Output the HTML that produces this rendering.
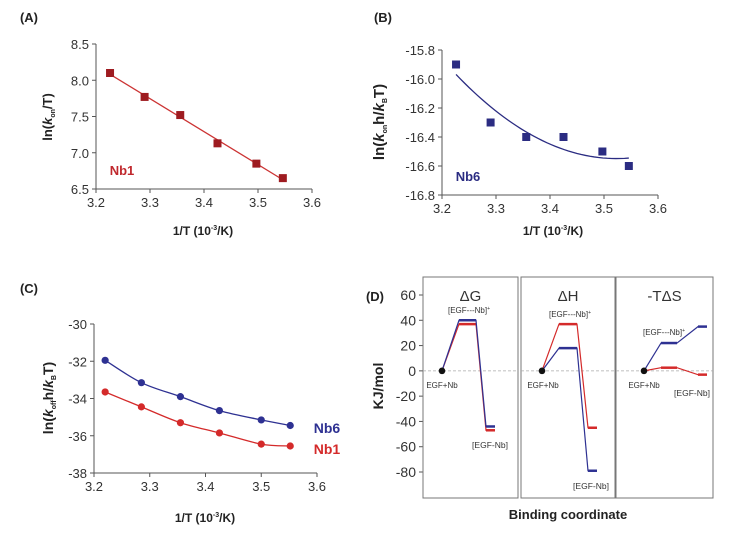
<!DOCTYPE html>
<html><head><meta charset="utf-8"><style>
html,body{margin:0;padding:0;background:#fff}
svg{display:block;font-family:"Liberation Sans",sans-serif}
.t{fill:#333}
.b{font-weight:bold;fill:#222}
</style></head><body>
<svg id="s" width="730" height="533" viewBox="0 0 730 533"></svg>
<script>
// Panel A data
const aX=[3.226,3.29,3.356,3.425,3.497,3.546];
const aY=[8.10,7.77,7.52,7.13,6.85,6.65];
// Panel B data
const bX=[3.226,3.29,3.356,3.425,3.497,3.546];
const bY=[-15.9,-16.3,-16.4,-16.4,-16.5,-16.6];
// Panel C data
const cX=[3.22,3.285,3.355,3.425,3.5,3.552];
const cNb6=[-31.95,-33.15,-33.9,-34.65,-35.15,-35.45];
const cNb1=[-33.65,-34.45,-35.3,-35.85,-36.45,-36.55];
const xTicks=[3.2,3.3,3.4,3.5,3.6];
const aTicks=[6.5,7.0,7.5,8.0,8.5];
const bTicks=[-16.8,-16.6,-16.4,-16.2,-16.0,-15.8];
const cTicks=[-38,-36,-34,-32,-30];
// Panel D data
const dTicks=[-80,-60,-40,-20,0,20,40,60];
const dPanels=["ΔG","ΔH","-TΔS"];
const dBlue=[[0,40,-44],[0,18,-79],[0,22,35]];
const dRed=[[0,37,-47],[0,37,-45],[0,2.5,-3]];

const S=document.getElementById('s');
const NS='http://www.w3.org/2000/svg';
function mk(t,a,p){const e=document.createElementNS(NS,t);for(const k in a)e.setAttribute(k,a[k]);(p||S).appendChild(e);return e;}
function tx(x,y,s,cls,anchor,extra){extra=Object.assign({},extra||{});
  const fs=extra['font-size']||'13';delete extra['font-size'];
  const fill=extra.fill;delete extra.fill;
  const e=mk('text',Object.assign({x:x,y:y,class:cls||'t','text-anchor':anchor||'middle',style:'font-size:'+fs+'px;'+(fill?'fill:'+fill:'')},extra));e.innerHTML=s;return e;}
function lin(d0,d1,r0,r1){return v=>r0+(v-d0)/(d1-d0)*(r1-r0);}

function axes(name,X,Y,x0,x1,y0,y1,yt,fmt){
  const g=mk('g',{});
  
  
  mk('line',{x1:x0,y1:y0,x2:x0,y2:y1,stroke:'#555','stroke-width':1},g);
  mk('line',{x1:x0,y1:y0,x2:x1,y2:y0,stroke:'#555','stroke-width':1},g);
  xTicks.forEach(v=>{const x=X(v);mk('line',{x1:x,y1:y0,x2:x,y2:y0+4,stroke:'#555'},g);
    const t=tx(x,y0+18,v.toFixed(1));});
  yt.forEach(v=>{const y=Y(v);mk('line',{x1:x0-4,y1:y,x2:x0,y2:y,stroke:'#555'},g);
    const t=tx(x0-7,y+5,fmt(v),'t','end');});
}
function smooth(pts){let d='M'+pts[0][0]+','+pts[0][1];
  for(let i=0;i<pts.length-1;i++){const p0=pts[Math.max(0,i-1)],p1=pts[i],p2=pts[i+1],p3=pts[Math.min(pts.length-1,i+2)];
    d+=' C'+(p1[0]+(p2[0]-p0[0])/6)+','+(p1[1]+(p2[1]-p0[1])/6)+' '+(p2[0]-(p3[0]-p1[0])/6)+','+(p2[1]-(p3[1]-p1[1])/6)+' '+p2[0]+','+p2[1];}
  return d;}
function fit(xs,ys,deg){const n=deg+1,A=[],B=[];for(let i=0;i<n;i++){A.push(new Array(n).fill(0));B.push(0);}
  const m=xs.reduce((a,b)=>a+b)/xs.length;
  xs.forEach((x0,k)=>{const x=x0-m;for(let i=0;i<n;i++){B[i]+=ys[k]*Math.pow(x,i);for(let j=0;j<n;j++)A[i][j]+=Math.pow(x,i+j);}});
  for(let i=0;i<n;i++){for(let k=i+1;k<n;k++){const f=A[k][i]/A[i][i];for(let j=i;j<n;j++)A[k][j]-=f*A[i][j];B[k]-=f*B[i];}}
  const c=new Array(n).fill(0);for(let i=n-1;i>=0;i--){let s=B[i];for(let j=i+1;j<n;j++)s-=A[i][j]*c[j];c[i]=s/A[i][i];}
  return x=>c.reduce((s,ci,i)=>s+ci*Math.pow(x-m,i),0);}

// ---- Panel A
{const X=lin(3.2,3.6,96,312),Y=lin(6.5,8.5,189,44);
 tx(29,22,'(A)','t b');
 axes('panel-a',X,Y,96,312,189,44,aTicks,v=>v.toFixed(1));
 const f=fit(aX,aY,1);
 const l=mk('line',{x1:X(aX[0]),y1:Y(f(aX[0])),x2:X(aX[5]),y2:Y(f(aX[5])),stroke:'#cc3333','stroke-width':1.3});
 
 aX.forEach((x,i)=>{const r=mk('rect',{x:X(x)-4,y:Y(aY[i])-4,width:8,height:8,fill:'#9e1b20'});
  });
 tx(122,175,'Nb1','t b',null,{fill:'#c0282d'});
 tx(203,235,'1/T (10<tspan font-size="7" dy="-5">-3</tspan><tspan dy="5">/K)</tspan>','t b',null,{'font-size':'12'});
 tx(0,0,'ln(<tspan font-style="italic">k</tspan><tspan font-size="7" dy="3">on</tspan><tspan dy="-3">/T)</tspan>','t b',null,{transform:'translate(52,117) rotate(-90)','font-size':'13'});
}
// ---- Panel B
{const X=lin(3.2,3.6,442,658),Y=lin(-16.8,-15.8,195,50);
 tx(383,22,'(B)','t b');
 axes('panel-b',X,Y,442,658,195,50,bTicks,v=>v.toFixed(1));
 const f=fit(bX,bY,2);const pts=[];for(let i=0;i<=40;i++){const x=3.226+i*(3.546-3.226)/40;pts.push([X(x),Y(f(x))]);}
 const p=mk('path',{d:'M'+pts.map(q=>q.join(',')).join(' L'),fill:'none',stroke:'#2b2c82','stroke-width':1.3});
 
 bX.forEach((x,i)=>{const r=mk('rect',{x:X(x)-4,y:Y(bY[i])-4,width:8,height:8,fill:'#2b2c82'});
  });
 tx(468,181,'Nb6','t b',null,{fill:'#2b2c82'});
 tx(553,235,'1/T (10<tspan font-size="7" dy="-5">-3</tspan><tspan dy="5">/K)</tspan>','t b',null,{'font-size':'12'});
 tx(0,0,'ln(<tspan font-style="italic">k</tspan><tspan font-size="7" dy="3">on</tspan><tspan dy="-3">h/</tspan><tspan font-style="italic">k</tspan><tspan font-size="7" dy="3">B</tspan><tspan dy="-3">T)</tspan>','t b',null,{transform:'translate(384,122) rotate(-90)','font-size':'15'});
}
// ---- Panel C
{const X=lin(3.2,3.6,94,317),Y=lin(-38,-30,473,324);
 tx(29,293,'(C)','t b');
 axes('panel-c',X,Y,94,317,473,324,cTicks,v=>String(v));
 [[cNb6,'#2e3192','nb6'],[cNb1,'#d42a2a','nb1']].forEach(([ys,c,n])=>{
  const pts=cX.map((x,i)=>[X(x),Y(ys[i])]);
  const p=mk('path',{d:smooth(pts),fill:'none',stroke:c,'stroke-width':1.3});
  
  pts.forEach(q=>{const e=mk('circle',{cx:q[0],cy:q[1],r:3.6,fill:c});
   });
 });
 tx(327,433,'Nb6','t b','middle',{fill:'#2e3192','font-size':'14'});
 tx(327,454,'Nb1','t b','middle',{fill:'#d42a2a','font-size':'14'});
 tx(205,522,'1/T (10<tspan font-size="7" dy="-5">-3</tspan><tspan dy="5">/K)</tspan>','t b',null,{'font-size':'12'});
 tx(0,0,'ln(<tspan font-style="italic">k</tspan><tspan font-size="7" dy="3">off</tspan><tspan dy="-3">h/</tspan><tspan font-style="italic">k</tspan><tspan font-size="7" dy="3">B</tspan><tspan dy="-3">T)</tspan>','t b',null,{transform:'translate(53,398) rotate(-90)','font-size':'14'});
}
// ---- Panel D
{const Y=lin(-80,60,472,295);
 tx(375,301,'(D)','t b');
 tx(0,0,'KJ/mol','t b',null,{transform:'translate(383,386) rotate(-90)','font-size':'14'});
 tx(568,519,'Binding coordinate','t b',null,{'font-size':'13'});
 dTicks.forEach(v=>{const y=Y(v);mk('line',{x1:419,y1:y,x2:423,y2:y,stroke:'#555'});
  const t=tx(416,y+5,String(v),'t','end',{'font-size':'14'});});
 const boxes=[[423,518],[521,615],[616,713]];
 const pos=[[19,36,53,63,72],[21,38,56,67,76],[28,45,61,82,91]];
 boxes.forEach((b,k)=>{
  const r=mk('rect',{x:b[0],y:277,width:b[1]-b[0],height:221,fill:'none',stroke:'#777','stroke-width':1});
  
  mk('line',{x1:b[0],y1:Y(0),x2:b[1],y2:Y(0),stroke:'#aaa','stroke-dasharray':'3,2','stroke-width':0.8});
  tx(b[0]+(b[1]-b[0])/2,301,dPanels[k],'t',null,{'font-size':'15'});
  const p=pos[k];
  [[dRed[k],'#d42a2a'],[dBlue[k],'#2e3192']].forEach(([v,c])=>{
   const x=p.map(o=>b[0]+o);
   const d='M'+x[0]+','+Y(v[0])+' L'+x[1]+','+Y(v[1])+' L'+x[2]+','+Y(v[1])+' L'+x[3]+','+Y(v[2])+' L'+x[4]+','+Y(v[2]);
   const e=mk('path',{d:d,fill:'none',stroke:c,'stroke-width':1.2});
   
   mk('line',{x1:x[1],y1:Y(v[1]),x2:x[2],y2:Y(v[1]),stroke:c,'stroke-width':2.5});
   mk('line',{x1:x[3],y1:Y(v[2]),x2:x[4],y2:Y(v[2]),stroke:c,'stroke-width':2.5});
  });
  mk('circle',{cx:b[0]+p[0],cy:Y(0),r:3.3,fill:'#111'});
 });
 tx(442,388,'EGF+Nb','t',null,{'font-size':'8'});
 tx(543,388,'EGF+Nb','t',null,{'font-size':'8'});
 tx(644,388,'EGF+Nb','t',null,{'font-size':'8'});
 tx(469,313,'[EGF---Nb]<tspan font-size="5" dy="-3">+</tspan>','t',null,{'font-size':'8'});
 tx(570,317,'[EGF---Nb]<tspan font-size="5" dy="-3">+</tspan>','t',null,{'font-size':'8'});
 tx(664,335,'[EGF---Nb]<tspan font-size="5" dy="-3">+</tspan>','t',null,{'font-size':'8'});
 tx(490,448,'[EGF-Nb]','t',null,{'font-size':'8.5'});
 tx(591,489,'[EGF-Nb]','t',null,{'font-size':'8.5'});
 tx(692,396,'[EGF-Nb]','t',null,{'font-size':'8.5'});
}
</script>
</body></html>
